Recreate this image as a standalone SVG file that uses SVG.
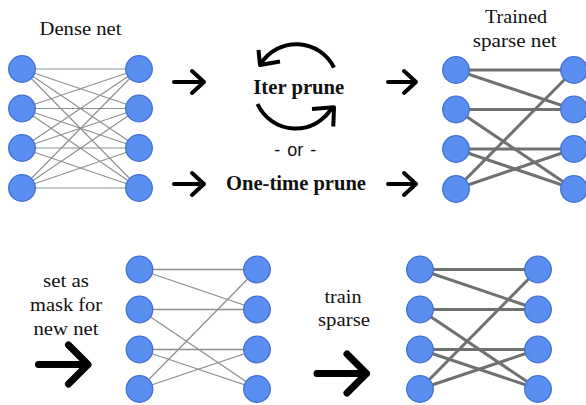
<svg xmlns="http://www.w3.org/2000/svg" width="586" height="405" viewBox="0 0 586 405">
<style>
.bg{fill:#ffffff}
.node circle{fill:#5a8ef0;stroke:#4470d2;stroke-width:1.3}
.dense{stroke:#8f8f8f;stroke-width:1.1;fill:none}
.thin{stroke:#8f8f8f;stroke-width:1.3;fill:none}
.thick{stroke:#707070;stroke-width:3;fill:none}
.lbl{font-family:"Liberation Serif","Times New Roman",serif;font-size:19px;fill:#111;text-anchor:middle}
.bold{font-family:"Liberation Serif","Times New Roman",serif;font-size:20px;font-weight:bold;fill:#111;text-anchor:middle}
.sans{font-family:"Liberation Sans",Arial,sans-serif;font-size:18px;fill:#111;text-anchor:middle;word-spacing:2px}
.arr{stroke:#000;fill:none;stroke-width:4;stroke-linecap:round;stroke-linejoin:round}
.big{stroke:#000;fill:none;stroke-width:7;stroke-linecap:round;stroke-linejoin:round}
.cyc{stroke:#000;fill:none;stroke-width:4;stroke-linejoin:round}
</style>
<rect class="bg" x="0" y="0" width="586" height="405"/>
<g id="connectors">
  <g class="dense">
    <line x1="22" y1="69" x2="139" y2="69"/><line x1="22" y1="69" x2="139" y2="108.5"/><line x1="22" y1="69" x2="139" y2="148"/><line x1="22" y1="69" x2="139" y2="188"/>
    <line x1="22" y1="108.5" x2="139" y2="69"/><line x1="22" y1="108.5" x2="139" y2="108.5"/><line x1="22" y1="108.5" x2="139" y2="148"/><line x1="22" y1="108.5" x2="139" y2="188"/>
    <line x1="22" y1="148" x2="139" y2="69"/><line x1="22" y1="148" x2="139" y2="108.5"/><line x1="22" y1="148" x2="139" y2="148"/><line x1="22" y1="148" x2="139" y2="188"/>
    <line x1="22" y1="188" x2="139" y2="69"/><line x1="22" y1="188" x2="139" y2="108.5"/><line x1="22" y1="188" x2="139" y2="148"/><line x1="22" y1="188" x2="139" y2="188"/>
  </g>
  <g class="thick">
    <line x1="456" y1="70" x2="574" y2="70"/><line x1="456" y1="70" x2="574" y2="109.5"/>
    <line x1="456" y1="109.5" x2="574" y2="109.5"/><line x1="456" y1="109.5" x2="574" y2="189"/>
    <line x1="456" y1="149" x2="574" y2="149"/><line x1="456" y1="149" x2="574" y2="189"/>
    <line x1="456" y1="189" x2="574" y2="70"/><line x1="456" y1="189" x2="574" y2="149"/>
  </g>
  <g class="thin">
    <line x1="139.5" y1="269.5" x2="257" y2="269.5"/><line x1="139.5" y1="269.5" x2="257" y2="309.5"/>
    <line x1="139.5" y1="309.5" x2="257" y2="309.5"/><line x1="139.5" y1="309.5" x2="257" y2="389"/>
    <line x1="139.5" y1="349.5" x2="257" y2="349.5"/><line x1="139.5" y1="349.5" x2="257" y2="389"/>
    <line x1="139.5" y1="389" x2="257" y2="269.5"/><line x1="139.5" y1="389" x2="257" y2="349.5"/>
  </g>
  <g class="thick">
    <line x1="420" y1="269.5" x2="538" y2="269.5"/><line x1="420" y1="269.5" x2="538" y2="309.5"/>
    <line x1="420" y1="309.5" x2="538" y2="309.5"/><line x1="420" y1="309.5" x2="538" y2="389"/>
    <line x1="420" y1="349.5" x2="538" y2="349.5"/><line x1="420" y1="349.5" x2="538" y2="389"/>
    <line x1="420" y1="389" x2="538" y2="269.5"/><line x1="420" y1="389" x2="538" y2="349.5"/>
  </g>
</g>
<g id="dense-net">
  <g id="d-l1" class="node"><circle cx="22" cy="69" r="13.3"/></g>
  <g id="d-l2" class="node"><circle cx="22" cy="108.5" r="13.3"/></g>
  <g id="d-l3" class="node"><circle cx="22" cy="148" r="13.3"/></g>
  <g id="d-l4" class="node"><circle cx="22" cy="188" r="13.3"/></g>
  <g id="d-r1" class="node"><circle cx="139" cy="69" r="13.3"/></g>
  <g id="d-r2" class="node"><circle cx="139" cy="108.5" r="13.3"/></g>
  <g id="d-r3" class="node"><circle cx="139" cy="148" r="13.3"/></g>
  <g id="d-r4" class="node"><circle cx="139" cy="188" r="13.3"/></g>
</g>
<g id="trained-net">
  <g id="t-l1" class="node"><circle cx="456" cy="70" r="13.3"/></g>
  <g id="t-l2" class="node"><circle cx="456" cy="109.5" r="13.3"/></g>
  <g id="t-l3" class="node"><circle cx="456" cy="149" r="13.3"/></g>
  <g id="t-l4" class="node"><circle cx="456" cy="189" r="13.3"/></g>
  <g id="t-r1" class="node"><circle cx="574" cy="70" r="13.3"/></g>
  <g id="t-r2" class="node"><circle cx="574" cy="109.5" r="13.3"/></g>
  <g id="t-r3" class="node"><circle cx="574" cy="149" r="13.3"/></g>
  <g id="t-r4" class="node"><circle cx="574" cy="189" r="13.3"/></g>
</g>
<g id="masked-net">
  <g id="m-l1" class="node"><circle cx="139.5" cy="269.5" r="13.3"/></g>
  <g id="m-l2" class="node"><circle cx="139.5" cy="309.5" r="13.3"/></g>
  <g id="m-l3" class="node"><circle cx="139.5" cy="349.5" r="13.3"/></g>
  <g id="m-l4" class="node"><circle cx="139.5" cy="389" r="13.3"/></g>
  <g id="m-r1" class="node"><circle cx="257" cy="269.5" r="13.3"/></g>
  <g id="m-r2" class="node"><circle cx="257" cy="309.5" r="13.3"/></g>
  <g id="m-r3" class="node"><circle cx="257" cy="349.5" r="13.3"/></g>
  <g id="m-r4" class="node"><circle cx="257" cy="389" r="13.3"/></g>
</g>
<g id="final-net">
  <g id="f-l1" class="node"><circle cx="420" cy="269.5" r="13.3"/></g>
  <g id="f-l2" class="node"><circle cx="420" cy="309.5" r="13.3"/></g>
  <g id="f-l3" class="node"><circle cx="420" cy="349.5" r="13.3"/></g>
  <g id="f-l4" class="node"><circle cx="420" cy="389" r="13.3"/></g>
  <g id="f-r1" class="node"><circle cx="538" cy="269.5" r="13.3"/></g>
  <g id="f-r2" class="node"><circle cx="538" cy="309.5" r="13.3"/></g>
  <g id="f-r3" class="node"><circle cx="538" cy="349.5" r="13.3"/></g>
  <g id="f-r4" class="node"><circle cx="538" cy="389" r="13.3"/></g>
</g>
<g id="arrows">
  <path class="arr" d="M174 82 H204 M192 71 L204 82 L192 93"/>
  <path class="arr" d="M174 184 H204 M192 173 L204 184 L192 195"/>
  <path class="arr" d="M388 82 H416 M404 71 L416 82 L404 93"/>
  <path class="arr" d="M388 184 H416 M404 173 L416 184 L404 195"/>
  <path class="cyc" d="M334 67.6 A42 42 0 0 0 261 63.5"/>
  <path class="cyc" d="M258.5 50 L260 65 L280 61.5"/>
  <path class="cyc" d="M257.5 104 A42 42 0 0 0 332 107.6"/>
  <path class="cyc" d="M312 109 L334 107.3 L333.3 126.5"/>
  <path class="big" d="M38.5 364.5 H88 M68.5 345 L88 364.5 L68.5 384"/>
  <path class="big" d="M317 373.5 H366.5 M347 354 L366.5 373.5 L347 393"/>
</g>
<g id="labels">
  <text class="lbl" x="80.5" y="35" textLength="82" lengthAdjust="spacingAndGlyphs">Dense net</text>
  <text class="lbl" x="516" y="23.3" textLength="62" lengthAdjust="spacingAndGlyphs">Trained</text>
  <text class="lbl" x="514.7" y="46.7" textLength="84" lengthAdjust="spacingAndGlyphs">sparse net</text>
  <text class="bold" x="298.8" y="94" textLength="91" lengthAdjust="spacingAndGlyphs">Iter prune</text>
  <text class="sans" x="295.3" y="156">- or -</text>
  <text class="bold" x="296" y="190" textLength="140" lengthAdjust="spacingAndGlyphs">One-time prune</text>
  <text class="lbl" x="66" y="287" textLength="46" lengthAdjust="spacingAndGlyphs">set as</text>
  <text class="lbl" x="66" y="311" textLength="72" lengthAdjust="spacingAndGlyphs">mask for</text>
  <text class="lbl" x="66" y="335" textLength="65" lengthAdjust="spacingAndGlyphs">new net</text>
  <text class="lbl" x="343" y="303.3" textLength="37" lengthAdjust="spacingAndGlyphs">train</text>
  <text class="lbl" x="344" y="326" textLength="52" lengthAdjust="spacingAndGlyphs">sparse</text>
</g>
</svg>
